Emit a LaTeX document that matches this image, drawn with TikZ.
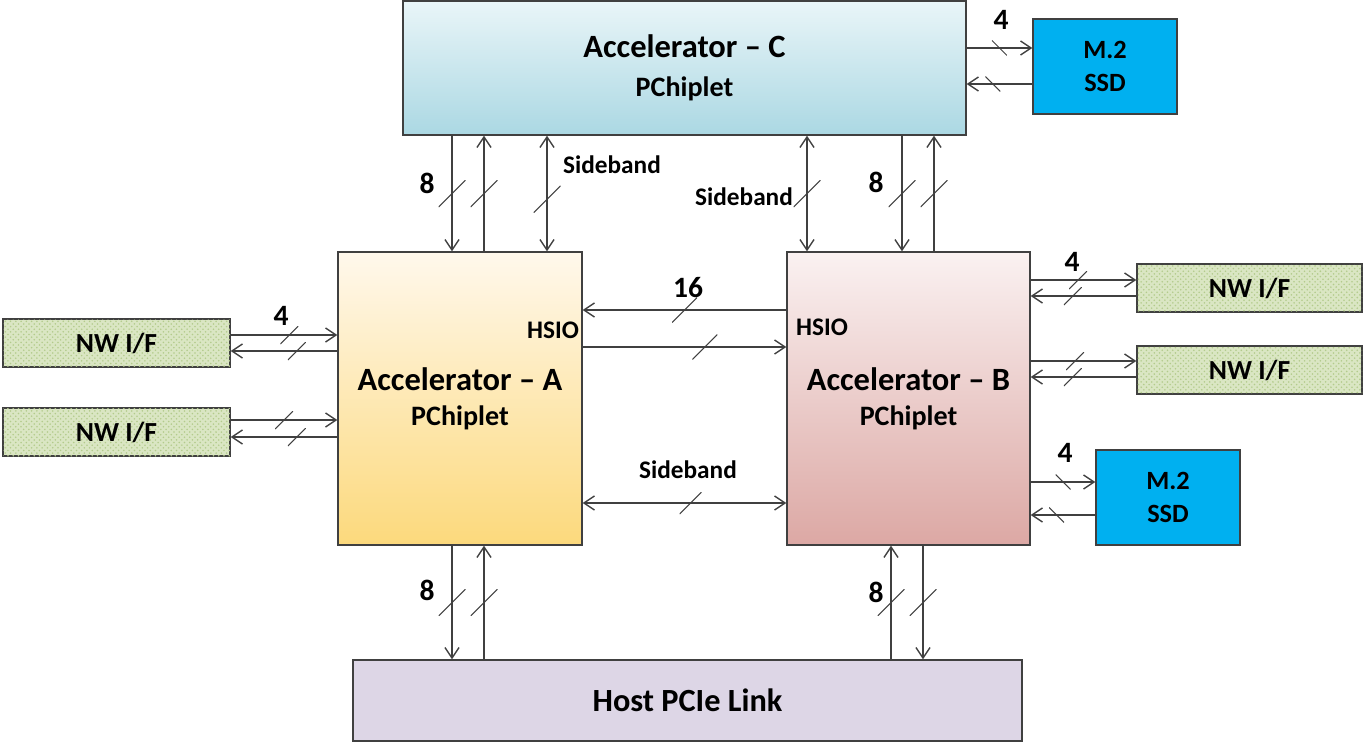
\documentclass[tikz,border=0pt]{standalone}
\usepackage{fontspec}
\setmainfont{Carlito}
\usepackage{xcolor}
\usetikzlibrary{arrows.meta,patterns}
\definecolor{lineclr}{HTML}{404040}
\definecolor{cTop}{HTML}{E9F5F8}
\definecolor{cBot}{HTML}{ABD8E3}
\definecolor{aTop}{HTML}{FFF8EC}
\definecolor{aBot}{HTML}{FCD97C}
\definecolor{bTop}{HTML}{FAF1F1}
\definecolor{bBot}{HTML}{DCA8A4}
\definecolor{ssdclr}{HTML}{00B0F0}
\definecolor{hostclr}{HTML}{DDD6E6}
\definecolor{nwclr}{HTML}{DAE6C3}
\definecolor{nwdot}{HTML}{B3CB8C}

\begin{document}
\begin{tikzpicture}[x=0.02cm,y=-0.02cm,>={Straight Barb[length=6pt,width=8pt]},
  blk/.style={draw=lineclr, line width=0.8pt, inner sep=0pt, align=center},
  acc/.style={blk, font=\bfseries\fontsize{18.5}{25}\selectfont},
  nw/.style={blk, fill=nwclr, postaction={pattern=crosshatch dots, pattern color=nwdot},
     minimum height=0.96cm, font=\bfseries\fontsize{15.7}{19}\selectfont},
  ssd/.style={blk, fill=ssdclr, minimum width=2.88cm, minimum height=1.9cm,
     font=\bfseries\fontsize{15}{19}\selectfont},
  wire/.style={draw=lineclr, line width=0.8pt},
  lbl/.style={font=\bfseries\fontsize{14.4}{17}\selectfont},
  num/.style={font=\bfseries\fontsize{16.8}{20}\selectfont},
  busmark/.style={minimum size=#1, inner sep=0pt, path picture={
     \draw[-, lineclr, line width=0.6pt] (path picture bounding box.south west) -- (path picture bounding box.north east);}},
  bmark/.style={minimum size=#1, inner sep=0pt, path picture={
     \draw[-, lineclr, line width=0.6pt] (path picture bounding box.north west) -- (path picture bounding box.south east);}}]
\useasboundingbox (0,0) rectangle (1364,743);

% blocks
\node (accC) [acc, top color=cTop, bottom color=cBot, minimum width=11.26cm, minimum height=2.68cm] at (684.5,68)
  {Accelerator -- C\\[-3pt]{\fontsize{16}{19}\selectfont PChiplet}};
\node (accA) [acc, top color=aTop, bottom color=aBot, minimum width=4.88cm, minimum height=5.86cm] at (460,398.5)
  {Accelerator -- A\\[-5pt]{\fontsize{16}{19}\selectfont PChiplet}};
\node (accB) [acc, top color=bTop, bottom color=bBot, minimum width=4.86cm, minimum height=5.86cm] at (908.5,398.5)
  {Accelerator -- B\\[-5pt]{\fontsize{16}{19}\selectfont PChiplet}};
\node (host) [blk, fill=hostclr, minimum width=13.38cm, minimum height=1.62cm,
  font=\bfseries\fontsize{18.4}{22}\selectfont] at (687.5,700.5) {Host PCIe Link};
\node (ssdC) [ssd] at (1105,66.5) {M.2\\SSD};
\node (ssdB) [ssd] at (1168,497.5) {M.2\\SSD};
\node (nwL1) [nw, minimum width=4.54cm] at (116.5,343) {NW I/F};
\node (nwL2) [nw, minimum width=4.54cm] at (116.5,432) {NW I/F};
\node (nwR1) [nw, minimum width=4.5cm] at (1249.5,288) {NW I/F};
\node (nwR2) [nw, minimum width=4.5cm] at (1249.5,370) {NW I/F};

% labels
\node (hsioA) [lbl] at (553,330) {HSIO};
\node (hsioB) [lbl] at (822,327) {HSIO};
\node (sbCA) [lbl] at (612,165) {Sideband};
\node (sbCB) [lbl] at (744,197) {Sideband};
\node (sbAB) [lbl] at (688,470) {Sideband};
\node (w16) [num] at (688,288) {16};
\node (w8a) [num] at (427,183) {8};
\node (w8b) [num] at (876,182) {8};
\node (w8c) [num] at (427,590) {8};
\node (w8d) [num] at (876,592) {8};
\node (w4a) [num] at (281,316) {4};
\node (w4b) [num] at (1072,262) {4};
\node (w4c) [num] at (1001,20) {4};
\node (w4d) [num] at (1065,453) {4};

% vertical links
\foreach \from/\to/\x in {accC.south/accA.north/452, accA.north/accC.south/484,
    accC.south/accB.north/902, accB.north/accC.south/934,
    accA.south/host.north/452, host.north/accA.south/484,
    host.north/accB.south/891, accB.south/host.north/923}
  \draw[wire,->] (\from -| \x,0) -- (\to -| \x,0) node[midway, busmark=0.54cm] {};
\draw[wire,<->] (accC.south -| 547,0) -- (accA.north -| 547,0) node[pos=.55, busmark=0.54cm] {};
\draw[wire,<->] (accC.south -| 807,0) -- (accB.north -| 807,0) node[pos=.5, busmark=0.54cm] {};

% horizontal links
\draw[wire,->] (accB.west |- 0,310) -- (accA.east |- 0,310) node[midway, busmark=0.5cm] {};
\draw[wire,->] (accA.east |- 0,347) -- (accB.west |- 0,347) node[pos=.6, busmark=0.5cm] {};
\draw[wire,<->] (accA.east |- 0,503) -- (accB.west |- 0,503) node[pos=.53, busmark=0.44cm] {};
\foreach \from/\to/\y/\p in {nwL1.east/accA.west/335/.55, accA.west/nwL1.east/351/.38,
    nwL2.east/accA.west/420/.5, accA.west/nwL2.east/437/.38,
    accB.east/nwR1.west/280/.45, nwR1.west/accB.east/296/.6,
    accB.east/nwR2.west/361/.42, nwR2.west/accB.east/377/.6}
  \draw[wire,->] (\from |- 0,\y) -- (\to |- 0,\y) node[pos=\p, busmark=0.36cm] {};
\foreach \from/\to/\y/\p in {accC.east/ssdC.west/48/.5, ssdC.west/accC.east/84/.6,
    accB.east/ssdB.west/482/.5, ssdB.west/accB.east/515/.6}
  \draw[wire,->] (\from |- 0,\y) -- (\to |- 0,\y) node[pos=\p, bmark=0.3cm] {};
\end{tikzpicture}
\end{document}
